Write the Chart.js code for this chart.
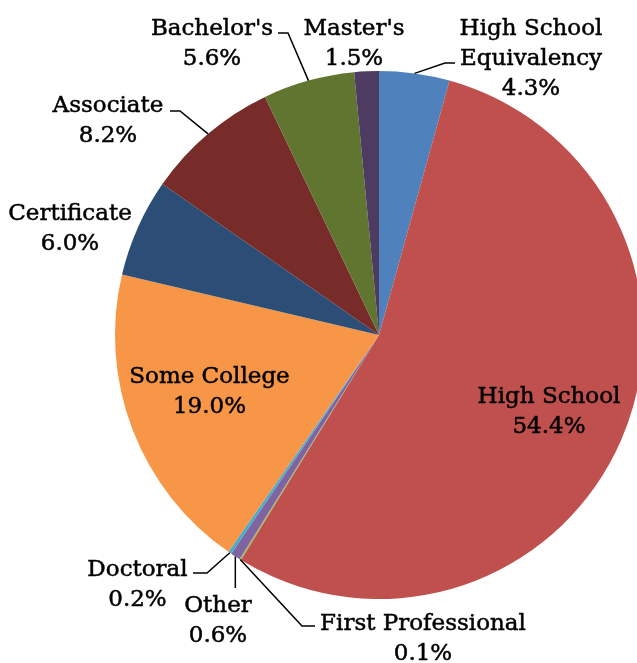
<!DOCTYPE html>
<html>
<head>
<meta charset="utf-8">
<script src="https://cdn.jsdelivr.net/npm/chart.js@4.4.1/dist/chart.umd.min.js"></script>
<style>
  html, body { margin: 0; padding: 0; background: #fff; overflow: hidden; }
  #wrap { width: 637px; height: 663px; overflow: hidden; }
</style>
</head>
<body>
<div id="wrap"><canvas id="chart" width="660" height="663" style="width:660px;height:663px"></canvas></div>
<script>
// data, clockwise from 12 o'clock
const categories = ['High School Equivalency', 'High School', 'First Professional', 'Other', 'Doctoral', 'Some College', 'Certificate', 'Associate', "Bachelor's", "Master's"];
const shares = [4.3, 54.4, 0.1, 0.6, 0.2, 19.0, 6.0, 8.2, 5.6, 1.5];
const colors = ['#4F81BD', '#C0504D', '#9BBB59', '#8064A2', '#4BACC6', '#F79646', '#2C4D75', '#772C2A', '#5F7530', '#4D3B62'];

// label placement: text lines (center x, first baseline), leader elbow points
const labelLayout = [
  { lines: ['High School', 'Equivalency'], x: 531, y: 35, leader: [[445, 63], [455, 63]] },
  { lines: ['High School'], x: 549, y: 403 },
  { lines: ['First Professional'], x: 423, y: 630, leader: [[302, 626], [315, 626]] },
  { lines: ['Other'], x: 218, y: 612, leader: ['v', 588] },
  { lines: ['Doctoral'], x: 137.5, y: 576, leader: [[207, 573], [193, 573]] },
  { lines: ['Some College'], x: 209.5, y: 383 },
  { lines: ['Certificate'], x: 70, y: 220 },
  { lines: ['Associate'], x: 108, y: 112, leader: [[180, 111], [170, 111]] },
  { lines: ["Bachelor's"], x: 212, y: 35, leader: [[288, 33], [278, 33]] },
  { lines: ["Master's"], x: 354, y: 35 }
];

const FONT = '23px "DejaVu Serif"';
const LINE_H = 30;

const pieLabels = {
  id: 'pieLabels',
  afterDraw(chart) {
    const ctx = chart.ctx;
    const arcs = chart.getDatasetMeta(0).data;
    ctx.save();
    ctx.strokeStyle = '#000';
    ctx.lineWidth = 1.5;
    arcs.forEach((arc, i) => {
      const lay = labelLayout[i];
      if (!lay.leader) return;
      const p = arc.getProps(['x', 'y', 'startAngle', 'endAngle', 'outerRadius'], true);
      const a = (p.startAngle + p.endAngle) / 2;
      const ax = p.x + Math.cos(a) * p.outerRadius;
      const ay = p.y + Math.sin(a) * p.outerRadius;
      ctx.beginPath();
      ctx.moveTo(ax, ay);
      if (lay.leader[0] === 'v') ctx.lineTo(ax, lay.leader[1]);
      else lay.leader.forEach(pt => ctx.lineTo(pt[0], pt[1]));
      ctx.stroke();
    });
    // slight stroke to match the heavier look of the original serif
    ctx.fillStyle = '#000';
    ctx.lineWidth = 0.5;
    ctx.font = FONT;
    ctx.textAlign = 'center';
    ctx.textBaseline = 'alphabetic';
    labelLayout.forEach((lay, i) => {
      const lines = lay.lines.concat([shares[i].toFixed(1) + '%']);
      lines.forEach((t, j) => {
        ctx.fillText(t, lay.x, lay.y + j * LINE_H);
        ctx.strokeText(t, lay.x, lay.y + j * LINE_H);
      });
    });
    ctx.restore();
  }
};

new Chart(document.getElementById('chart'), {
  type: 'pie',
  data: {
    labels: categories,
    datasets: [{ data: shares, backgroundColor: colors, borderWidth: 0 }]
  },
  options: {
    responsive: false,
    animation: false,
    layout: { padding: { left: 115, right: 17, top: 71, bottom: 64 } },
    plugins: { legend: { display: false }, tooltip: { enabled: false } }
  },
  plugins: [pieLabels]
});
</script>
</body>
</html>
